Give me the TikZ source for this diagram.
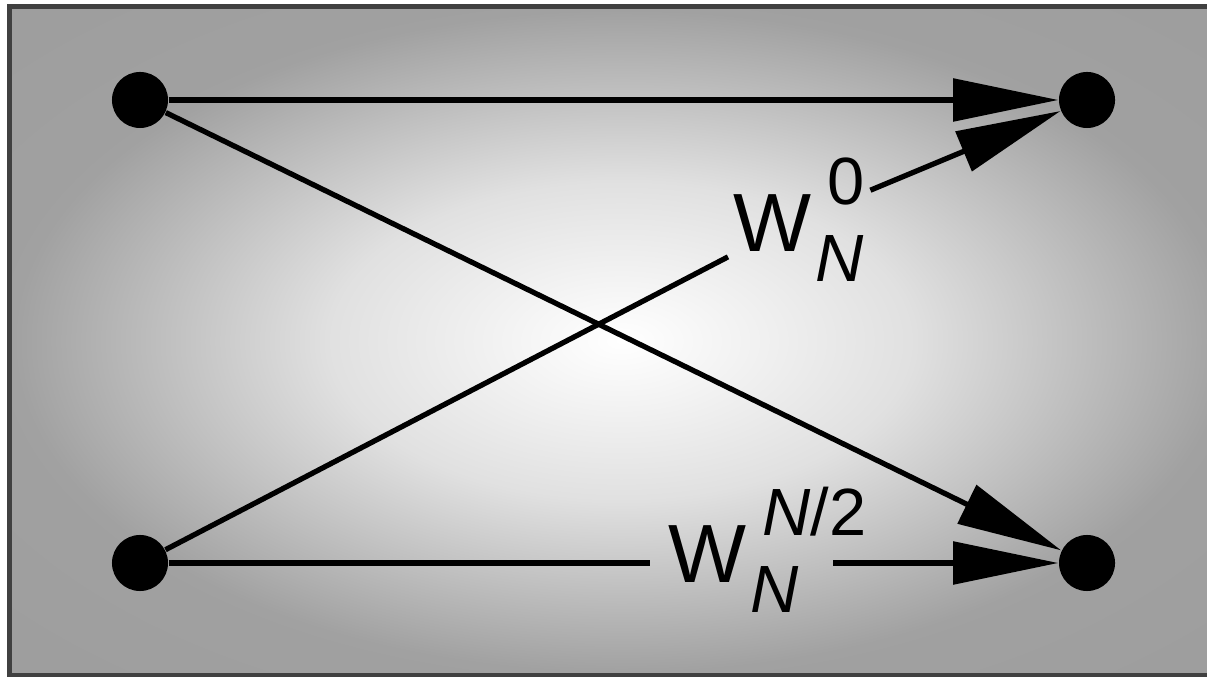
\documentclass[tikz,border=0pt]{standalone}
\usepackage{fontspec}
\setmainfont{Liberation Sans}
\usetikzlibrary{arrows.meta, positioning}
\newcommand{\scr}{\fontsize{19}{19}\selectfont}
\newcommand{\twf}[1]{W\rlap{\raisebox{-8.5pt}{\scr\kern1pt\itshape N}}\raisebox{13.5pt}{\scr\kern4.5pt #1}}
\pgfdeclareradialshading{panel}{\pgfpoint{0bp}{0bp}}{%
  color(0bp)=(white); color(12bp)=(black!12); color(25bp)=(black!37); color(50bp)=(black!40)}

\begin{document}
\begin{tikzpicture}[x=0.01cm,y=-0.01cm,
  dot/.style={circle,fill=black,minimum size=0.56cm,inner sep=0pt},
  wire/.style={line width=1.5pt},
  head/.style={-{Triangle[length=1.05cm,width=0.42cm]}},
  twlabel/.style={inner sep=0.05cm,anchor=base west,font=\fontsize{23.5}{24}\selectfont}]
 \useasboundingbox (0,0) rectangle (1207,677);
 % shaded panel and frame (open at the right)
 \fill[white] (0,0) rectangle (1207,677);
 \shade[shading=panel] (12,9) rectangle (1230,673);
 \fill[black!75] (7,4) rectangle (1230,9);
 \fill[black!75] (7,4) rectangle (12,677);
 \fill[black!75] (7,673) rectangle (1230,677);
 % butterfly nodes
 \node[dot] (tl) at (140,100) {};
 \node[dot] (tr) at (1087,100) {};
 \node[dot] (bl) at (140,563) {};
 \node[dot] (br) at (1087,563) {};
 \node[twlabel] (w0) at (728,252) {\twf{0}};
 \node[twlabel] (wN2) at (663,583) {\twf{\textit{N}/2}};
 % connectors
 \draw[wire,head] (tl) -- (tr);
 \draw[wire,head] (tl) -- (br);
 \draw[wire] (bl) -- (w0);
 \draw[wire,head] (w0) -- (tr);
 \draw[wire] (bl) -- ([xshift=-0.13cm]wN2.west |- bl);
 \draw[wire,head] ([xshift=-0.39cm]wN2.east |- br) -- (br);
\end{tikzpicture}
\end{document}
